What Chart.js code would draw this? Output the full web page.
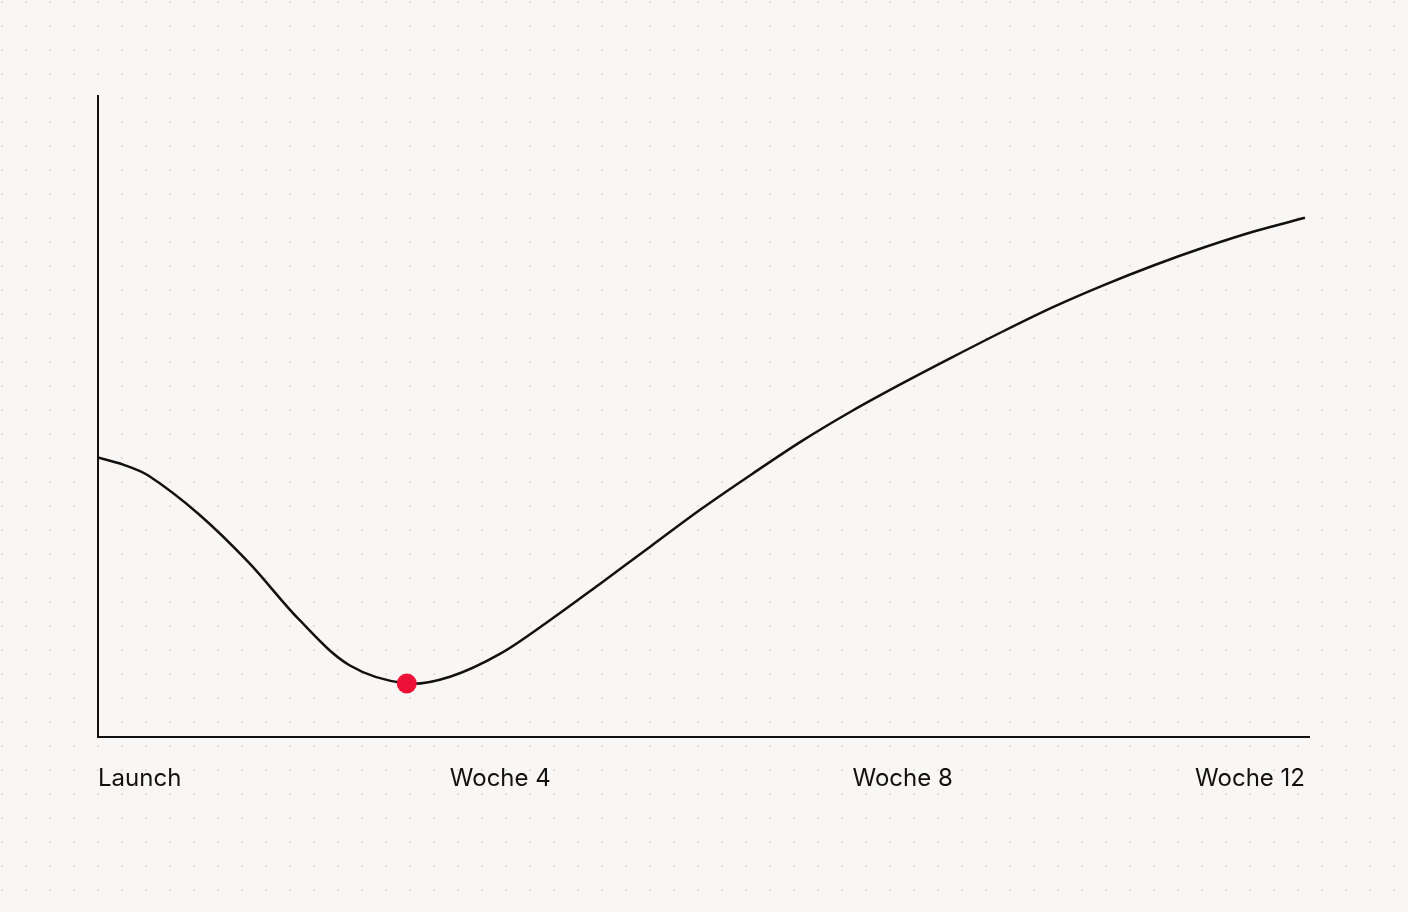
<!DOCTYPE html>
<html lang="de">
<head>
<meta charset="utf-8">
<title>Launch-Kurve</title>
<script src="https://cdn.jsdelivr.net/npm/chart.js@4.4.1/dist/chart.umd.min.js"></script>
<style>
    html, body {
        margin: 0;
        padding: 0;
        width: 1408px;
        height: 912px;
        overflow: hidden;
        background-color: #f8f7f5;
        background-image: radial-gradient(circle, #e4e2de 1px, transparent 1.4px);
        background-size: 24px 24px;
        background-position: -10px -10px;
    }
    #wrap {
        position: relative;
        width: 1408px;
        height: 912px;
    }
</style>
</head>
<body>
<div id="wrap"><canvas id="curveChart"></canvas></div>
<script>
// Wochen seit Launch (x) und Kurvenwerte (y, 0–100)
const weeks = [0, 0.25, 0.5, 1, 1.5, 2, 2.5, 3.07, 3.5, 4, 4.5, 5, 5.5, 6, 6.5, 7, 7.5, 8, 8.5, 9, 9.5, 10, 10.5, 11, 11.5, 12];
const values = [43.6, 42.5, 40.8, 34.8, 27.2, 18.3, 11.2, 8.35, 9.4, 13.0, 18.3, 24.0, 29.8, 35.6, 41.0, 46.2, 50.9, 55.2, 59.3, 63.3, 67.1, 70.5, 73.6, 76.4, 78.9, 81.0];

// markierter Tiefpunkt
const lowWeek = [3.07];
const lowValue = [8.35];

// Achsenbeschriftung
const tickWeeks = [0, 4, 8, 12];
const tickLabels = ['Launch', 'Woche 4', 'Woche 8', 'Woche 12'];

const ink = '#111111';

const ctx = document.getElementById('curveChart');

new Chart(ctx, {
    type: 'line',
    data: {
        datasets: [
            {
                label: 'Tiefpunkt',
                data: lowWeek.map((w, i) => ({ x: w, y: lowValue[i] })),
                showLine: false,
                pointRadius: 10,
                pointHoverRadius: 10,
                pointBackgroundColor: '#ee1137',
                pointBorderWidth: 0,
                order: 0
            },
            {
                label: 'Verlauf',
                data: weeks.map((w, i) => ({ x: w, y: values[i] })),
                borderColor: ink,
                borderWidth: 2.5,
                pointRadius: 0,
                tension: 0.33,
                fill: false,
                order: 1
            }
        ]
    },
    options: {
        responsive: true,
        maintainAspectRatio: false,
        animation: false,
        events: [],
        layout: {
            padding: { top: 96, right: 99, left: 0, bottom: 0 }
        },
        plugins: {
            legend: { display: false },
            tooltip: { enabled: false }
        },
        scales: {
            x: {
                type: 'linear',
                min: 0,
                max: 12.04,
                afterBuildTicks: (scale) => {
                    scale.ticks = tickWeeks.map(v => ({ value: v }));
                },
                afterFit: (scale) => { scale.height = 175; },
                grid: { display: false, drawTicks: false },
                border: { display: true, color: ink, width: 2 },
                ticks: {
                    align: 'inner',
                    padding: 27,
                    color: ink,
                    font: { family: 'Inter', size: 24 },
                    maxRotation: 0,
                    autoSkip: false,
                    callback: (v) => {
                        const i = tickWeeks.indexOf(v);
                        return i >= 0 ? tickLabels[i] : '';
                    }
                }
            },
            y: {
                type: 'linear',
                min: 0,
                max: 100,
                afterFit: (scale) => { scale.width = 98; },
                grid: { display: false, drawTicks: false },
                border: { display: true, color: ink, width: 2 },
                ticks: { display: false }
            }
        }
    }
});
</script>
</body>
</html>
